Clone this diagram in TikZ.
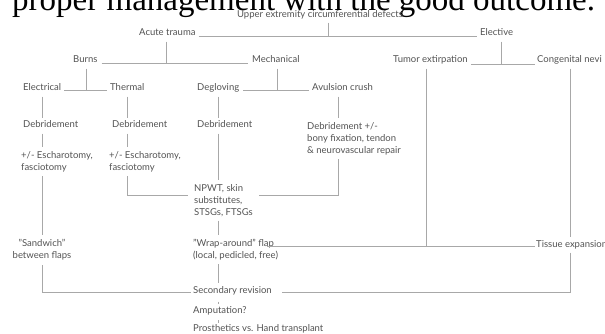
\documentclass[tikz,border=0pt]{standalone}
\usepackage{fontspec}
\setmainfont{Lato}
\newfontfamily\hdrfont{Liberation Serif}
\usetikzlibrary{calc}
\definecolor{txt}{HTML}{535353}
\definecolor{ln}{HTML}{A8A8A8}
\begin{document}
\begin{tikzpicture}[x=1pt,y=-1pt,
  lab/.style={font=\fontsize{9.5}{12}\selectfont, text=txt, inner sep=0pt, anchor=west, text height=5.5pt, text depth=1.5pt},
  mlab/.style={font=\fontsize{9.5}{12}\selectfont, text=txt, inner sep=0pt, anchor=north west, align=left},
  con/.style={draw=ln, line width=0.7pt},
  gap/.style={shorten <=#1, shorten >=#1}]
\useasboundingbox (0,0) rectangle (605,334);
\begin{scope}
\clip (0,0) rectangle (605,334);
\node[anchor=base west, font=\hdrfont\fontsize{33}{33}\selectfont, inner sep=0pt] (hdr) at (12,11) {proper management with the good outcome.};

\node[lab,anchor=center] (title) at (320,16) {Upper extremity circumferential defects};
\node[lab] (at) at (139,34) {Acute trauma};
\node[lab] (el) at (480,34) {Elective};
\node[lab] (burns) at (73,61) {Burns};
\node[lab] (mech) at (252,61) {Mechanical};
\node[lab] (tumor) at (393,61) {Tumor extirpation};
\node[lab] (cong) at (537,61) {Congenital nevi};
\node[lab] (elec) at (23,89) {Electrical};
\node[lab] (therm) at (110,89) {Thermal};
\node[lab] (degl) at (197,89) {Degloving};
\node[lab] (avul) at (312,89) {Avulsion crush};
\node[lab] (deb1) at (23,126) {Debridement};
\node[lab] (deb2) at (112,126) {Debridement};
\node[lab] (deb3) at (197,126) {Debridement};
\node[mlab] (deb4) at (307,122) {Debridement +/-\\bony fixation, tendon\\\& neurovascular repair};
\node[mlab] (esc1) at (21,151) {+/- Escharotomy,\\fasciotomy};
\node[mlab] (esc2) at (109,151) {+/- Escharotomy,\\fasciotomy};
\node[mlab] (npwt) at (194,184) {NPWT, skin\\substitutes,\\STSGs, FTSGs};
\node[mlab,anchor=north,align=center] (sand) at (42,239) {"Sandwich"\\between flaps};
\node[mlab] (wrap) at (193,239) {"Wrap-around" flap\\(local, pedicled, free)};
\node[lab] (tissue) at (536,245) {Tissue expansion};
\node[lab] (sec) at (193,291) {Secondary revision};
\node[lab] (amp) at (193,311) {Amputation?};
\node[lab] (pros) at (193,329) {Prosthetics vs. Hand transplant};

\coordinate (av) at ($(avul.south)+(-4,0)$);
\coordinate (ev) at ($(el.south)+(5,0)$);
\coordinate (tv) at ($(tumor.south)+(-4,0)$);
\coordinate (cv) at ($(cong.south)+(1,0)$);

% level 0
\draw[con] ($(title.south)+(8,3)$) |- ($(at.east)+(3,2)$);
\draw[con] ($(at.east)+(3,2)$) -- ($(el.west)+(-3,2)$);
% level 1
\draw[con] ($(at.south)+(-1,4)$) |- ($(burns.east)+(4,2)$);
\draw[con] ($(burns.east)+(4,2)$) -- ($(mech.west)+(-4,2)$);
\draw[con] ($(ev)+(0,4)$) |- ($(tumor.east)+(3,3)$);
\draw[con] ($(tumor.east)+(3,3)$) -- ($(cong.west)+(-2,3)$);
% level 2
\draw[con] ($(burns.south)+(1,4)$) |- ($(elec.east)+(3,1)$);
\draw[con] ($(elec.east)+(3,1)$) -- ($(therm.west)+(-3,1)$);
\draw[con] ($(mech.south)+(1,4)$) |- ($(degl.east)+(4,1)$);
\draw[con] ($(degl.east)+(4,1)$) -- ($(avul.west)+(-3,1)$);
% burns branches
\draw[con,gap=4pt] (elec.south) -- (elec.south |- deb1.north);
\draw[con,gap=4pt] (deb1.south -| elec.south) -- (elec.south |- esc1.north);
\draw[con,gap=4pt] (esc1.south -| elec.south) -- (elec.south |- sand.north);
\draw[con] ($(sand.south)+(0,5)$) |- ($(sec.west)+(-2,1)$);
\draw[con,gap=4pt] (therm.south) -- (therm.south |- deb2.north);
\draw[con,gap=4pt] (deb2.south -| therm.south) -- (therm.south |- esc2.north);
\draw[con] ($(esc2.south -| therm.south)+(0,4)$) |- ($(npwt.west)+(-6,-5)$);
% mechanical branches
\draw[con,gap=4pt] (degl.south) -- (degl.south |- deb3.north);
\draw[con,gap=4pt] (deb3.south -| degl.south) -- (degl.south |- npwt.north);
\draw[con,gap=4pt] (av) -- (av |- deb4.north);
\draw[con] ($(deb4.south -| av)+(0,4)$) |- ($(npwt.east)+(6,-5)$);
\draw[con,gap=4pt] (npwt.south -| degl.south) -- (degl.south |- wrap.north);
\draw[con,gap=4pt] (wrap.south -| degl.south) -- (degl.south |- sec.north);
\draw[con,shorten <=7pt,shorten >=3.5pt] (sec.south -| degl.south) -- (degl.south |- amp.north);
\draw[con,shorten <=5.5pt,shorten >=2.5pt] (amp.south -| degl.south) -- (degl.south |- pros.north);
% elective branches
\draw[con] ($(wrap.north west)+(74,7)$) -- ($(tissue.west)+(-1,1)$);
\draw[con] ($(tv)+(0,4)$) |- ($(tissue.west)+(-1,1)$);
\draw[con,gap=4pt] (cv) -- (cv |- tissue.north);
\draw[con] ($(cv |- tissue.south)+(0,4)$) |- ($(sec.east)+(10,1)$);
\end{scope}
\end{tikzpicture}
\end{document}
